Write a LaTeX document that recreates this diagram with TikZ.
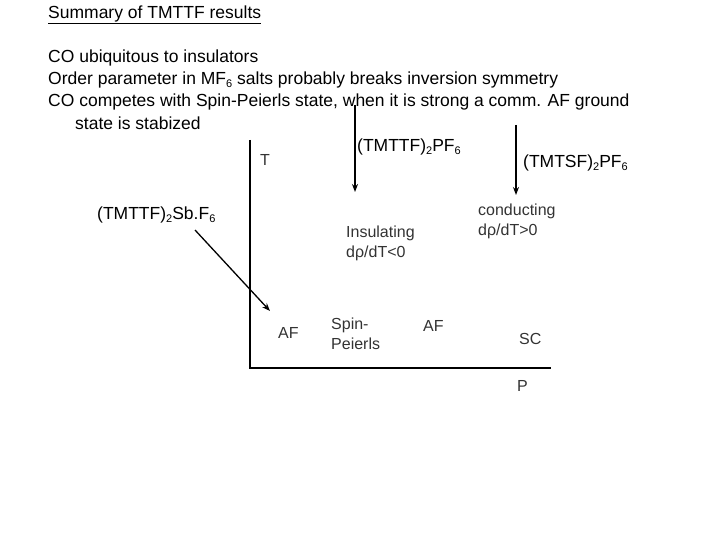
\documentclass[tikz,border=0pt]{standalone}
\usepackage{fontspec}
\setmainfont{Liberation Sans}
\usetikzlibrary{arrows.meta}
\newcommand{\sbs}[1]{\raisebox{-0.35ex}{\fontsize{11}{11}\selectfont #1}}
\begin{document}
\begin{tikzpicture}[x=1pt,y=-1pt,
 txt/.style={anchor=west,inner sep=0pt,font=\fontsize{17.5}{21}\selectfont},
 lab/.style={anchor=west,inner sep=0pt,font=\fontsize{16}{20}\selectfont,text=black!80},
 arr/.style={-{Stealth[length=8pt,width=6pt]},line width=1.3pt}]
\useasboundingbox (0,0) rectangle (720,540);
\node[txt] (t0) at (48,15) {\underline{Summary of TMTTF results}};
\node[txt] (t1) at (48,58) {CO ubiquitous to insulators};
\node[txt] (t2) at (48,80) {Order parameter in MF\sbs{6} salts probably breaks inversion symmetry};
\node[txt] (t3) at (48,102) {CO competes with Spin-Peierls state, when it is strong a comm. AF ground};
\node[txt] (t4) at (75,123) {state is stabized};
\node[txt] (m1) at (357,147) {(TMTTF)\sbs{2}PF\sbs{6}};
\node[txt] (m2) at (523,163) {(TMTSF)\sbs{2}PF\sbs{6}};
\node[txt] (m3) at (97,215) {(TMTTF)\sbs{2}Sb.F\sbs{6}};
\draw[line width=1.3pt] (250,140) -- (250,368) -- (551,368);
\node[lab] (T) at (260,160) {T};
\node[lab] (P) at (517,386) {P};
\node[lab,align=left] (ins) at (346,243) {Insulating\\dρ/dT<0};
\node[lab,align=left] (con) at (478,221) {conducting\\dρ/dT>0};
\node[lab] (af1) at (278,333) {AF};
\node[lab,align=left] (sp) at (331,334) {Spin-\\Peierls};
\node[lab] (af2) at (423,326) {AF};
\node[lab] (sc) at (519,339) {SC};
\coordinate (a1) at (355,105); \coordinate (b1) at (355,192);
\coordinate (a2) at (516,125); \coordinate (b2) at (516,195);
\coordinate (a3) at (195,230); \coordinate (b3) at (270,311);
\draw[arr] (a1) -- (b1);
\draw[arr] (a2) -- (b2);
\draw[arr] (a3) -- (b3);
\end{tikzpicture}
\end{document}
